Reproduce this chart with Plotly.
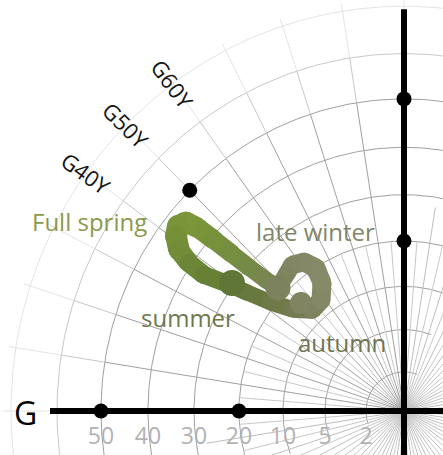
import numpy as np
import plotly.graph_objects as go

# NCS-style hue/chroma diagram: G on the left (180 deg), Y straight up (90 deg)
# one hue step of 10 = 9 degrees
RING_CHROMA = [2, 5, 10, 20, 30, 40, 50, 60, 70]
RING_RADIUS = [38, 79, 121, 165, 210, 256, 303, 347, 393]

CHROMA_TICKS = [50, 40, 30, 20, 10, 5, 2]

HUE_LABELS = ["G40Y", "G50Y", "G60Y"]
HUE_STEPS = [40, 50, 60]

# reference dots: (hue step, chroma)
REF_DOT_HUE = [0, 0, 100, 100, 50]
REF_DOT_CHROMA = [50, 20, 50, 20, 50]

# seasonal loop, in diagram units (centre = 0,0)
LOOP_X = [-126, -138, -154, -172, -190, -206, -218, -226, -228, -225, -215, -200,
          -176, -156, -134, -112, -92, -83, -82, -88, -100, -112, -118, -126]
LOOP_Y = [119.4, 127.2, 138.8, 152.4, 166.0, 177.7, 183.5, 179.6, 169.9, 156.3, 143.7, 132.0,
          123.3, 114.6, 105.8, 99.0, 98.1, 107.8, 124.3, 138.8, 144.7, 141.7, 132.0, 119.4]

SEASONS = ["summer", "autumn", "late winter"]
SEASON_X = [-172, -103, -126]
SEASON_Y = [124.3, 104.9, 119.4]

YSTRETCH = 1.03
W, H = 443, 455
CX, CY = 404, 411

ring_r = dict(zip(RING_CHROMA, RING_RADIUS))


def hue_angle(step):
    return np.radians(180 - step * 0.9)


def polyline(segs):
    xs, ys = [], []
    for sx, sy in segs:
        xs += list(sx) + [None]
        ys += list(sy) + [None]
    return xs, ys


fig = go.Figure()

# rings
def ring_trace(radii, a0, a1, color):
    segs = []
    for r in radii:
        t = np.radians(np.linspace(a0, a1, 160))
        segs.append((r * np.cos(t), r * np.sin(t)))
    xs, ys = polyline(segs)
    fig.add_trace(go.Scatter(x=xs, y=ys, mode="lines", hoverinfo="skip",
                             line=dict(color=color, width=1)))

ring_trace(RING_RADIUS[:7], 70, 200, "rgb(160,160,160)")
ring_trace([RING_RADIUS[7]], 70, 200, "rgb(200,200,200)")
ring_trace([RING_RADIUS[8]], 70, 200, "rgb(228,228,228)")

# spokes
def spoke_trace(angles, r0, r1, color):
    segs = []
    for a in angles:
        t = np.radians(a)
        segs.append(([r0 * np.cos(t), r1 * np.cos(t)], [r0 * np.sin(t), r1 * np.sin(t)]))
    xs, ys = polyline(segs)
    fig.add_trace(go.Scatter(x=xs, y=ys, mode="lines", hoverinfo="skip",
                             line=dict(color=color, width=1)))

main = np.arange(0, 360, 9.0)
fine = main + 4.5
quad = [a for a in main if 90 <= a <= 180]
other = [a for a in main if not (90 <= a <= 180)]
spoke_trace(fine, 0, 165, "rgb(200,200,200)")
spoke_trace(other, 0, 200, "rgb(190,190,190)")
spoke_trace(quad, 0, 303, "rgb(160,160,160)")
spoke_trace(quad, 303, 347, "rgb(200,200,200)")
spoke_trace(quad, 347, 400, "rgb(228,228,228)")

# black axes
fig.add_shape(type="line", x0=-354, x1=40, y0=0, y1=0,
              line=dict(color="black", width=6))
fig.add_shape(type="line", x0=0, x1=0, y0=-50, y1=390,
              line=dict(color="black", width=6))

# reference dots
dot_x = [ring_r[c] * np.cos(hue_angle(h)) for h, c in zip(REF_DOT_HUE, REF_DOT_CHROMA)]
dot_y = [ring_r[c] * np.sin(hue_angle(h)) for h, c in zip(REF_DOT_HUE, REF_DOT_CHROMA)]
fig.add_trace(go.Scatter(x=dot_x, y=dot_y, mode="markers", hoverinfo="skip",
                         marker=dict(color="black", size=15, opacity=1, line=dict(width=0))))

# chroma tick labels
fig.add_trace(go.Scatter(x=[-ring_r[c] for c in CHROMA_TICKS], y=[-26] * len(CHROMA_TICKS),
                         mode="text", text=[str(c) for c in CHROMA_TICKS], hoverinfo="skip",
                         textfont=dict(family="Open Sans", size=23, color="rgb(178,178,178)")))

# seasonal loop: one short piece per step so the colour can drift along it
loop_col = ["rgb(124,130,92)", "rgb(120,134,80)", "rgb(118,138,72)", "rgb(118,142,64)",
            "rgb(120,146,60)", "rgb(122,148,58)", "rgb(124,150,58)", "rgb(122,148,58)",
            "rgb(118,144,56)", "rgb(114,140,55)", "rgb(108,134,55)", "rgb(102,128,54)",
            "rgb(98,120,54)", "rgb(104,120,62)", "rgb(112,122,72)", "rgb(118,124,82)",
            "rgb(126,130,94)", "rgb(132,136,102)", "rgb(134,138,104)", "rgb(134,138,104)",
            "rgb(132,136,102)", "rgb(130,134,100)", "rgb(128,132,96)", "rgb(124,130,92)"]
loop_w = [17, 17, 17, 18, 19, 20, 21, 22, 22, 21, 19, 18,
          17, 16, 16, 17, 18, 19, 19, 19, 19, 18, 17, 17]
for i in range(len(LOOP_X) - 1):
    fig.add_trace(go.Scatter(x=LOOP_X[i:i + 2], y=LOOP_Y[i:i + 2], mode="lines", hoverinfo="skip",
                             line=dict(color=loop_col[i], width=(loop_w[i] + loop_w[i + 1]) / 2)))
fig.add_trace(go.Scatter(x=LOOP_X, y=LOOP_Y, mode="markers", hoverinfo="skip",
                         marker=dict(color=loop_col, size=loop_w, opacity=1, line=dict(width=0))))

fig.add_trace(go.Scatter(x=SEASON_X, y=SEASON_Y, mode="markers", hoverinfo="skip",
                         marker=dict(color=["rgb(96,118,54)", "rgb(128,132,98)", "rgb(124,130,92)"],
                                     size=[26, 22, 25], opacity=1, line=dict(width=0))))

ann = []
# hue labels along the outer ring
for lab, st in zip(HUE_LABELS, HUE_STEPS):
    t = hue_angle(st)
    R = ring_r[70]
    ann.append(dict(x=R * np.cos(t), y=R * np.sin(t), text=lab, showarrow=False,
                    textangle=st * 0.9, font=dict(family="Open Sans", size=22, color="rgb(20,20,20)")))

ann.append(dict(x=-379, y=-1.6, text="G", showarrow=False,
                font=dict(family="Open Sans", size=32, color="black")))

season_font = dict(family="Open Sans", size=24)
ann += [
    dict(x=-315, y=183.8, text="Full spring", showarrow=False,
         font=dict(season_font, color="rgb(138,155,75)")),
    dict(x=-216, y=90.6, text="summer", showarrow=False,
         font=dict(season_font, color="rgb(110,120,75)")),
    dict(x=-89, y=174.4, text="late winter", showarrow=False,
         font=dict(season_font, color="rgb(128,134,105)")),
    dict(x=-62, y=66.6, text="autumn", showarrow=False,
         font=dict(season_font, color="rgb(112,115,80)")),
]

fig.update_layout(
    width=W, height=H,
    margin=dict(l=0, r=0, t=0, b=0),
    paper_bgcolor="white", plot_bgcolor="white",
    showlegend=False,
    annotations=ann,
    xaxis=dict(range=[-CX, W - CX], visible=False, fixedrange=True),
    yaxis=dict(range=[-(H - CY) / YSTRETCH, CY / YSTRETCH], visible=False, fixedrange=True),
)

fig.write_html("out.html", config={"displayModeBar": False},
               post_script="document.body.style.margin='0px';")
